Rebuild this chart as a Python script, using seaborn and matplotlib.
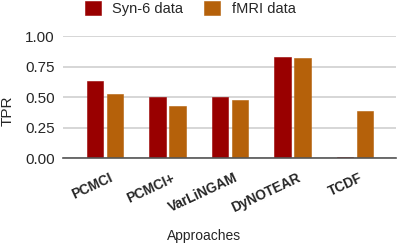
import matplotlib
matplotlib.use("Agg")
import matplotlib.pyplot as plt
import matplotlib.transforms as mtransforms
import seaborn as sns
import pandas as pd

approaches = ["PCMCI", "PCMCI+", "VarLiNGAM", "DyNOTEAR", "TCDF"]
syn6 = [0.63, 0.505, 0.50, 0.83, 0.012]
fmri = [0.525, 0.43, 0.48, 0.82, 0.385]
series_names = ["Syn-6 data", "fMRI data"]
colors = ["#990000", "#b5610a"]

df = pd.DataFrame({
    "Approach": approaches * 2,
    "TPR": syn6 + fmri,
    "Series": [series_names[0]] * len(approaches) + [series_names[1]] * len(approaches),
})

sns.set_style("white")
plt.rcParams["font.family"] = ["Liberation Sans", "DejaVu Sans"]

fig = plt.figure(figsize=(3.98, 2.45), dpi=100)
ax = fig.add_axes([63 / 398, 1 - 158.3 / 245, 333 / 398, 122 / 245])

sns.barplot(data=df, x="Approach", y="TPR", hue="Series", palette=colors,
            width=0.64, gap=0.17, ax=ax, legend=True, saturation=1)
for p in ax.patches:
    p.set_edgecolor(p.get_facecolor())
    p.set_linewidth(0.4)
    p.set_zorder(3)

ax.set_ylim(0, 1.0)
ax.set_xlim(-0.672, 4.656)
ax.set_yticks([0, 0.25, 0.5, 0.75, 1.0])
ax.set_yticklabels(["0.00", "0.25", "0.50", "0.75", "1.00"], fontsize=11)
ax.yaxis.grid(True, color="#d0d0d0", linewidth=1.2)
ax.set_axisbelow(True)
for s in ["top", "right", "left"]:
    ax.spines[s].set_visible(False)
ax.spines["bottom"].set_color("#555555")
ax.spines["bottom"].set_linewidth(1.2)
ax.spines["bottom"].set_zorder(4)
ax.tick_params(axis="y", length=0, pad=6)
ax.tick_params(axis="x", length=0, pad=9)
ax.set_ylabel("TPR", fontsize=11)
ax.yaxis.set_label_coords(-0.144, 0.39)
ax.set_xlabel("Approaches", fontsize=10)
ax.xaxis.set_label_coords(0.425, -0.58)
ax.set_xticks(range(len(approaches)))
ax.set_xticklabels(approaches, rotation=25, ha="right", va="top",
                   fontsize=9.8, fontweight="bold")
offset = mtransforms.ScaledTranslation(10 / 100, 0, fig.dpi_scale_trans)
for lbl in ax.get_xticklabels():
    lbl.set_transform(lbl.get_transform() + offset)

handles, labels = ax.get_legend_handles_labels()
ax.legend_.remove()
fig.legend(handles, labels, loc="upper center", ncol=2, frameon=False,
           bbox_to_anchor=(0.478, 1.05), fontsize=10.5, handlelength=1.1,
           handleheight=1.1, columnspacing=1.45, handletextpad=0.8)

fig.savefig("out.png", dpi=100)
